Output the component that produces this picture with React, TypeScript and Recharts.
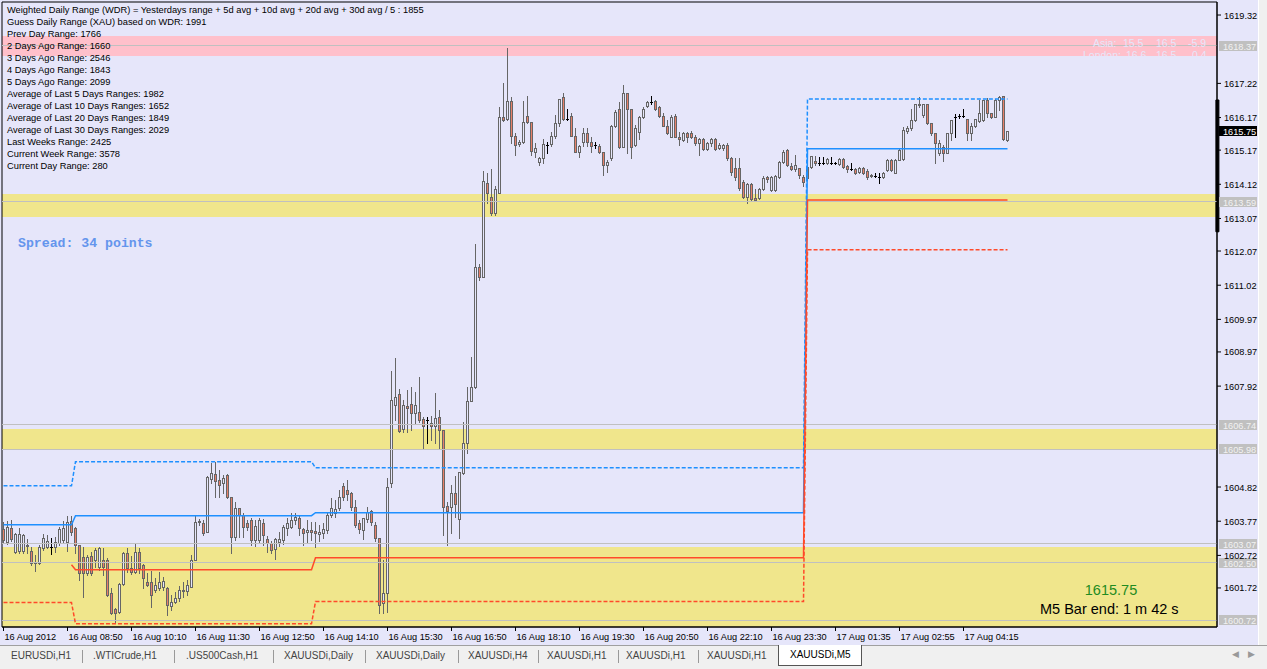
import React from "react";
import { ComposedChart, Bar, Line, XAxis, YAxis, ReferenceArea, ReferenceLine } from "recharts";

// ---------- DATA (XAUUSDi M5, [open, high, low, close]) ----------
const sessionA: number[][] = [
  [1603.54,1603.76,1603.14,1603.20],[1603.14,1603.79,1603.08,1603.60],[1603.57,1603.82,1603.17,1603.23],[1602.83,1603.42,1602.80,1603.39],
  [1602.86,1603.57,1602.80,1603.39],[1602.86,1603.39,1602.80,1603.36],[1603.02,1603.23,1602.80,1603.05],[1602.86,1602.99,1602.43,1602.50],
  [1602.53,1602.74,1602.25,1602.50],[1602.50,1603.05,1602.46,1602.99],[1602.96,1603.39,1602.89,1603.26],[1602.99,1603.36,1602.96,1603.17],
  [1602.99,1603.26,1602.77,1602.99],[1602.99,1603.29,1602.83,1603.14],[1603.11,1603.60,1603.05,1603.54],[1603.20,1603.79,1603.14,1603.57],
  [1603.14,1603.94,1602.86,1603.76],[1603.79,1603.94,1603.36,1603.45],[1603.57,1603.60,1602.80,1603.05],[1603.05,1603.05,1601.97,1602.19],
  [1602.68,1602.99,1601.45,1602.19],[1602.19,1602.74,1602.13,1602.68],[1602.71,1602.83,1602.13,1602.19],[1602.59,1602.96,1602.37,1602.89],
  [1602.37,1602.99,1602.28,1602.96],[1602.59,1602.96,1602.13,1602.37],[1602.59,1602.65,1601.48,1601.51],[1601.57,1601.73,1600.93,1600.96],
  [1601.08,1601.11,1600.68,1600.96],[1600.99,1601.88,1600.96,1601.85],[1601.85,1602.83,1601.82,1602.80],[1602.80,1602.96,1602.22,1602.34],
  [1602.34,1602.71,1602.16,1602.22],[1602.22,1603.11,1602.19,1602.83],[1602.83,1602.96,1602.19,1602.34],[1602.43,1602.46,1601.73,1602.03],
  [1601.91,1602.19,1601.79,1601.82],[1601.91,1602.25,1601.14,1601.51],[1601.67,1602.03,1601.61,1601.82],[1601.73,1602.22,1601.67,1601.91],
  [1601.76,1602.06,1601.67,1601.94],[1601.73,1601.76,1600.90,1601.21],[1601.18,1601.51,1601.05,1601.30],[1601.30,1601.61,1601.27,1601.42],
  [1601.42,1601.79,1601.33,1601.67],[1601.64,1601.91,1601.45,1601.67],[1601.64,1601.97,1601.51,1601.82],[1601.76,1602.74,1601.76,1602.59],
  [1602.59,1603.97,1602.59,1603.76],[1603.76,1603.85,1603.66,1603.79],[1603.73,1603.82,1603.36,1603.42],[1603.45,1605.17,1603.45,1605.14],
  [1605.07,1605.57,1604.95,1605.26],[1605.23,1605.60,1604.52,1605.01],[1605.04,1605.35,1604.52,1604.89],[1604.95,1605.20,1604.65,1605.11],
  [1605.20,1605.23,1604.49,1604.52],[1604.52,1604.52,1602.80,1603.29],[1603.29,1604.37,1603.20,1604.18],[1604.18,1604.18,1603.29,1603.97],
  [1603.97,1604.03,1603.29,1603.60],[1603.73,1603.82,1603.51,1603.60],[1603.82,1603.88,1603.05,1603.20],[1603.20,1603.82,1603.02,1603.63],
];
const sessionB: number[][] = [
  [1603.20,1603.88,1603.11,1603.82],[1603.73,1603.85,1603.05,1603.36],[1603.23,1603.33,1602.83,1603.11],[1603.11,1603.17,1602.80,1602.89],
  [1602.92,1603.26,1602.62,1603.23],[1603.14,1603.45,1603.02,1603.23],[1603.20,1603.66,1603.08,1603.60],[1603.57,1603.88,1603.36,1603.73],
  [1603.60,1604.03,1603.57,1603.82],[1603.82,1604.03,1603.69,1603.91],[1603.88,1603.94,1603.36,1603.57],[1603.54,1603.57,1603.05,1603.42],
  [1603.45,1603.82,1603.14,1603.51],[1603.51,1603.76,1603.20,1603.45],[1603.48,1603.76,1602.99,1603.42],[1603.39,1603.66,1603.17,1603.45],
  [1603.42,1603.73,1603.26,1603.54],[1603.51,1604.03,1603.42,1603.97],[1603.97,1604.49,1603.91,1604.18],[1604.03,1604.43,1603.91,1604.15],
  [1604.18,1604.74,1604.12,1604.52],[1604.86,1604.95,1604.43,1604.52],[1604.74,1605.04,1604.43,1604.61],[1604.65,1604.68,1604.12,1604.21],
  [1604.21,1604.43,1603.60,1603.66],[1603.73,1603.82,1603.42,1603.54],[1603.51,1603.88,1603.23,1603.88],[1603.85,1604.21,1603.76,1604.06],
  [1604.09,1604.12,1603.66,1603.76],[1603.66,1603.76,1603.17,1603.26],[1603.26,1603.26,1600.96,1601.21],[1601.27,1602.59,1600.96,1601.57],
  [1601.57,1605.11,1600.99,1604.83],[1604.95,1608.39,1604.83,1607.50],[1607.35,1608.79,1606.89,1607.59],[1607.68,1607.84,1606.52,1606.55],
  [1606.61,1607.50,1606.52,1607.35],[1607.32,1607.81,1606.52,1607.26],[1607.38,1607.90,1606.58,1607.10],[1607.10,1607.75,1606.79,1607.35],
  [1607.13,1608.21,1606.82,1606.89],[1606.92,1606.98,1606.03,1606.70],[1606.89,1606.98,1606.18,1606.89],[1606.79,1607.01,1606.27,1606.70],
  [1606.70,1607.71,1606.18,1606.95],[1606.98,1607.19,1606.00,1606.58],[1606.58,1606.58,1603.36,1604.21],[1604.24,1604.37,1603.05,1604.09],
  [1604.21,1604.89,1603.42,1604.65],[1604.65,1605.17,1603.91,1604.31],[1603.85,1605.29,1603.26,1605.29],[1605.26,1606.82,1605.23,1606.18],
  [1606.18,1607.90,1605.87,1607.47],[1607.47,1608.82,1607.47,1607.90],[1607.90,1612.29,1607.87,1611.58],[1611.58,1611.67,1611.18,1611.28],
  [1611.28,1614.53,1611.28,1614.22],[1614.16,1614.47,1613.55,1613.85],[1613.73,1614.59,1613.18,1613.24],[1613.24,1614.07,1613.18,1613.98],
  [1613.85,1616.49,1613.85,1616.19],[1616.19,1617.23,1616.07,1616.10],[1616.13,1618.31,1616.10,1616.68],[1616.68,1616.80,1615.39,1615.61],
];
const sessionC: number[][] = [
  [1615.61,1615.70,1615.02,1615.33],[1615.36,1615.48,1615.30,1615.42],[1615.42,1616.68,1615.39,1616.03],[1616.22,1616.83,1616.00,1616.03],
  [1616.03,1616.03,1615.02,1615.14],[1615.11,1615.39,1614.96,1615.24],[1614.81,1614.96,1614.72,1614.93],[1614.93,1615.51,1614.78,1615.36],
  [1615.33,1615.42,1615.08,1615.33],[1615.36,1615.73,1615.30,1615.61],[1615.61,1616.25,1615.54,1616.00],[1616.00,1616.74,1615.91,1616.74],
  [1616.80,1616.93,1616.10,1616.13],[1616.13,1616.43,1616.10,1616.13],[1616.22,1616.31,1615.61,1615.61],[1615.61,1615.85,1615.11,1615.11],
  [1615.11,1615.33,1614.96,1615.30],[1615.42,1615.85,1615.30,1615.70],[1615.70,1615.85,1615.30,1615.42],[1615.42,1615.57,1615.11,1615.30],
  [1615.33,1615.42,1615.24,1615.33],[1615.30,1615.36,1615.08,1615.11],[1615.11,1615.11,1614.41,1614.72],[1614.72,1614.87,1614.50,1614.81],
  [1614.93,1615.94,1614.87,1615.91],[1615.91,1616.40,1615.88,1616.34],[1616.43,1616.65,1615.24,1615.27],[1615.27,1617.17,1615.27,1616.93],
  [1616.93,1616.93,1615.08,1616.43],[1616.43,1616.43,1614.93,1615.27],[1615.33,1615.94,1615.30,1615.85],[1615.73,1616.22,1615.51,1616.19],
  [1616.19,1616.49,1616.16,1616.43],[1616.53,1616.68,1616.49,1616.65],[1616.65,1616.83,1616.59,1616.65],[1616.68,1616.71,1616.40,1616.43],
  [1616.49,1616.53,1616.19,1616.22],[1616.22,1616.31,1615.91,1615.91],[1615.91,1616.10,1615.67,1615.70],[1615.57,1616.25,1615.57,1616.19],
  [1616.22,1616.28,1615.57,1615.57],[1615.57,1615.73,1615.33,1615.51],[1615.48,1615.73,1615.45,1615.70],[1615.70,1615.73,1615.42,1615.57],
  [1615.70,1615.76,1615.54,1615.57],[1615.57,1615.64,1615.33,1615.39],[1615.39,1615.54,1615.02,1615.51],[1615.51,1615.54,1615.17,1615.21],
  [1615.21,1615.42,1615.17,1615.39],[1615.39,1615.54,1615.30,1615.51],[1615.51,1615.54,1615.17,1615.21],[1615.24,1615.39,1615.21,1615.33],
  [1615.24,1615.36,1615.17,1615.33],[1615.33,1615.39,1614.87,1614.93],[1614.93,1614.96,1614.41,1614.50],[1614.62,1614.93,1614.25,1614.35],
  [1614.62,1614.93,1613.95,1614.01],[1614.19,1614.25,1613.70,1613.73],[1613.73,1614.16,1613.55,1614.13],[1614.13,1614.16,1613.64,1613.67],
  [1613.70,1613.98,1613.61,1613.64],[1613.70,1614.01,1613.67,1613.98],[1613.98,1614.38,1613.95,1614.32],[1614.35,1614.38,1614.19,1614.28],
];
const sessionD: number[][] = [
  [1613.95,1614.38,1613.92,1614.35],[1613.95,1614.41,1613.92,1614.38],[1614.35,1614.84,1614.32,1614.81],[1614.81,1615.17,1614.78,1615.11],
  [1615.17,1615.21,1614.69,1614.72],[1614.69,1614.78,1614.56,1614.59],[1614.59,1615.02,1614.53,1614.72],[1614.62,1614.62,1614.32,1614.41],
  [1614.35,1614.41,1614.07,1614.19],[1614.32,1614.72,1614.25,1614.65],[1614.65,1614.99,1614.62,1614.99],[1614.84,1614.99,1614.72,1614.78],
  [1614.78,1614.96,1614.72,1614.78],[1614.78,1614.96,1614.75,1614.78],[1614.78,1614.93,1614.75,1614.90],[1614.78,1614.96,1614.75,1614.78],
  [1614.78,1614.81,1614.75,1614.78],[1614.75,1614.93,1614.72,1614.90],[1614.90,1614.93,1614.62,1614.65],[1614.69,1614.72,1614.50,1614.59],
  [1614.59,1614.78,1614.56,1614.59],[1614.59,1614.62,1614.44,1614.47],[1614.50,1614.65,1614.47,1614.62],[1614.62,1614.65,1614.44,1614.47],
  [1614.53,1614.59,1614.28,1614.35],[1614.38,1614.44,1614.35,1614.41],[1614.38,1614.47,1614.35,1614.38],[1614.35,1614.47,1614.16,1614.35],
  [1614.35,1614.50,1614.32,1614.47],[1614.56,1614.90,1614.53,1614.87],[1614.87,1614.90,1614.53,1614.56],[1614.47,1614.90,1614.47,1614.87],
  [1614.87,1615.21,1614.87,1615.17],[1614.90,1615.88,1614.87,1615.79],[1615.76,1615.91,1615.70,1615.85],[1615.85,1616.43,1615.79,1616.10],
  [1616.10,1616.59,1616.07,1616.59],[1616.56,1616.80,1616.50,1616.59],[1616.25,1616.59,1616.19,1616.59],[1616.59,1616.59,1615.97,1616.00],
  [1616.00,1616.00,1615.64,1615.70],[1615.70,1615.70,1614.78,1615.39],[1615.08,1615.48,1615.02,1615.39],[1615.27,1615.33,1614.84,1615.08],
  [1615.08,1615.70,1615.08,1615.70],[1615.70,1616.10,1615.48,1616.10],[1616.19,1616.28,1615.57,1616.19],[1616.22,1616.28,1616.16,1616.22],
  [1616.22,1616.43,1616.19,1616.22],[1616.13,1616.13,1615.48,1615.70],[1615.70,1616.00,1615.48,1615.91],[1615.91,1616.13,1615.88,1616.13],
  [1616.07,1616.71,1616.03,1616.31],[1616.10,1616.71,1616.07,1616.71],[1616.71,1616.77,1616.19,1616.31],[1616.31,1616.31,1616.16,1616.19],
  [1616.19,1616.74,1616.19,1616.71],[1616.71,1616.83,1616.40,1616.80],[1616.83,1616.83,1615.48,1615.51],[1615.48,1615.76,1615.45,1615.75],
];

const timeTickBars = [0, 16, 32, 48, 64, 80, 96, 112, 128, 144, 160, 176, 192, 208, 224, 240];
const timeTickLabels = [
  "16 Aug 2012", "16 Aug 08:50", "16 Aug 10:10", "16 Aug 11:30", "16 Aug 12:50", "16 Aug 14:10",
  "16 Aug 15:30", "16 Aug 16:50", "16 Aug 18:10", "16 Aug 19:30", "16 Aug 20:50", "16 Aug 22:10",
  "16 Aug 23:30", "17 Aug 01:35", "17 Aug 02:55", "17 Aug 04:15",
];
const priceTicks = [1619.32, 1617.22, 1616.17, 1615.17, 1614.12, 1613.07, 1612.07, 1611.02, 1609.97,
  1608.97, 1607.92, 1604.82, 1603.77, 1602.72, 1601.72];

// indicator day levels: [first bar, value]
const upperDashedSegs = [[0, 1604.86], [18, 1605.60], [78, 1605.41], [201, 1616.74]];
const upperSolidSegs = [[0, 1603.66], [18, 1603.94], [78, 1604.03], [201, 1615.21]];
const lowerSolidSegs = [[17, 1602.43], [18, 1602.28], [78, 1602.65], [201, 1613.64]];
const lowerDashedSegs = [[0, 1601.27], [18, 1600.62], [78, 1601.30], [201, 1612.11]];

const pinkZone = [1618.06, 1618.67];
const yellowZones = [[1613.12, 1613.82], [1605.96, 1606.61], [1600.52, 1602.99]];
const levelLines = [1618.37, 1613.59, 1606.74, 1605.98, 1603.07, 1602.50, 1600.72];
const currentPrice = 1615.75;
const dayRangeBar = [1612.66, 1616.71];

const infoLines = [
  "Weighted Daily Range (WDR) = Yesterdays range + 5d avg + 10d avg + 20d avg + 30d avg / 5 : 1855",
  "Guess Daily Range (XAU) based on WDR: 1991",
  "Prev Day Range: 1766",
  "2 Days Ago Range: 1660",
  "3 Days Ago Range: 2546",
  "4 Days Ago Range: 1843",
  "5 Days Ago Range: 2099",
  "Average of Last 5 Days Ranges: 1982",
  "Average of Last 10 Days Ranges: 1652",
  "Average of Last 20 Days Ranges: 1849",
  "Average of Last 30 Days Ranges: 2029",
  "Last Weeks Range: 2425",
  "Current Week Range: 3578",
  "Current Day Range: 280",
];
const sessionRows = [
  ["Asia:", "15.5", "16.5", "-5.9"],
  ["London:", "16.6", "16.5", "0.4"],
];
const tabNames = ["EURUSDi,H1", ".WTICrude,H1", ".US500Cash,H1", "XAUUSDi,Daily", "XAUUSDi,Daily",
  "XAUUSDi,H4", "XAUUSDi,H1", "XAUUSDi,H1", "XAUUSDi,H1", "XAUUSDi,M5"];

// ---------- build table ----------
const candles = [...sessionA, ...sessionB, ...sessionC, ...sessionD];
const segVal = (segs: number[][], i: number) => {
  let v: number | null = null;
  for (const s of segs) if (i >= s[0]) v = s[1];
  return v;
};
const data = candles.map((c, i) => ({
  i,
  o: c[0], h: c[1], l: c[2], c: c[3],
  range: [c[2], c[1]],
  ud: segVal(upperDashedSegs, i),
  us: segVal(upperSolidSegs, i),
  ls: segVal(lowerSolidSegs, i),
  ld: segVal(lowerDashedSegs, i),
}));

// ---------- styling / layout ----------
const BG = "#E6E6FA";
const FONT = "'Liberation Sans', Arial, sans-serif";
const BULL_FILL = "#E6E6FA";
const BEAR_FILL = "#E8806A";
const OUTLINE = "#666666";
const BLUE = "#1E90FF";
const RED = "#FF4A2A";
const X_DOMAIN: [number, number] = [-0.375, 303.375];
const Y_DOMAIN: [number, number] = [1600.52, 1619.72];
const tabX = [11, 93, 186, 284, 376, 468, 547, 626, 707, 789];
const sepX = [82, 174, 273, 365, 458, 538, 618, 698];
const sessionColX = [[1093, 1123, 1156, 1188], [1083, 1126, 1156, 1192]];
const sessionRowY = [47.3, 58.6];

const Candle = (props: any) => {
  const { x, y, width, height, payload } = props;
  if (!payload || payload.o == null) return null;
  const { o, h, l, c } = payload;
  const top = Math.min(y, y + height);
  const bot = Math.max(y, y + height);
  const span = h - l;
  const toY = (v: number) => (span > 0 ? top + ((h - v) / span) * (bot - top) : top);
  const cx = Math.floor(x + width / 2) + 0.5;
  const yh = Math.round(top);
  const yl = Math.round(bot);
  const yo = Math.round(toY(o));
  const yc = Math.round(toY(c));
  if (o === c) {
    return (
      <g>
        <line x1={cx} x2={cx} y1={yh} y2={yl + 1} stroke="#000" strokeWidth={1} />
        <line x1={cx - 1.5} x2={cx + 1.5} y1={yo + 0.5} y2={yo + 0.5} stroke="#000" strokeWidth={1} />
      </g>
    );
  }
  const bt = Math.min(yo, yc);
  const bh = Math.max(Math.abs(yo - yc), 1);
  return (
    <g>
      <line x1={cx} x2={cx} y1={yh} y2={yl + 1} stroke={OUTLINE} strokeWidth={1} />
      <rect x={cx - 1} y={bt + 0.5} width={2} height={bh} fill={c > o ? BULL_FILL : BEAR_FILL} stroke={OUTLINE} strokeWidth={1} />
    </g>
  );
};

const XTick = (props: any) => {
  const { x, y, payload } = props;
  const k = timeTickBars.indexOf(payload.value);
  return (
    <text x={x + 1} y={y + 7} fontSize={9.2} fontFamily={FONT} fill="#000" textAnchor="start">
      {k >= 0 ? timeTickLabels[k] : ""}
    </text>
  );
};

const YTick = (props: any) => {
  const { x, y, payload } = props;
  return (
    <text x={x + 2} y={y + 3.5} fontSize={9.2} fontFamily={FONT} fill="#000" textAnchor="start">
      {Number(payload.value).toFixed(2)}
    </text>
  );
};

const boxLabel = (text: string, fill: string, color: string) => (p: any) => {
  const vb = p.viewBox || {};
  const bx = vb.x + vb.width + 2;
  const by = Math.round(vb.y);
  return (
    <g>
      <rect x={bx} y={by - 5} width={38} height={10} fill={fill} />
      <text x={bx + 4} y={by + 3.5} fontSize={9.2} fontFamily={FONT} fill={color}>{text}</text>
    </g>
  );
};

export default function App() {
  return (
    <div style={{ position: "absolute", left: 0, top: 0, width: 1267, height: 669, background: "#F0F0F0", overflow: "hidden" }}>
      <div style={{ position: "absolute", left: 0, top: 0, width: 1258, height: 645, background: BG }}>
        <ComposedChart width={1258} height={645} data={data} margin={{ top: 2, right: 0, bottom: 0, left: 2 }}>
          <XAxis
            dataKey="i"
            type="number"
            domain={X_DOMAIN}
            allowDataOverflow
            ticks={timeTickBars}
            interval={0}
            height={18}
            tickSize={4}
            tickMargin={2}
            axisLine={{ stroke: "#000" }}
            tickLine={{ stroke: "#000" }}
            tick={<XTick />}
          />
          <YAxis
            orientation="right"
            type="number"
            domain={Y_DOMAIN}
            allowDataOverflow
            ticks={priceTicks}
            interval={0}
            width={41}
            tickSize={4}
            tickMargin={1}
            axisLine={{ stroke: "#000" }}
            tickLine={{ stroke: "#000" }}
            tick={<YTick />}
          />
          <ReferenceArea x1={X_DOMAIN[0]} x2={X_DOMAIN[1]} y1={pinkZone[0]} y2={pinkZone[1]} fill="#FFC0CB" fillOpacity={1} stroke="none" ifOverflow="hidden" shapeRendering="crispEdges" />
          {yellowZones.map((z, k) => (
            <ReferenceArea key={"yz" + k} x1={X_DOMAIN[0]} x2={X_DOMAIN[1]} y1={z[0]} y2={z[1]} fill="#F0E68C" fillOpacity={1} stroke="none" ifOverflow="hidden" shapeRendering="crispEdges" />
          ))}
          {levelLines.map((v) => (
            <ReferenceLine key={"lv" + v} y={v} stroke="#C0C0C0" strokeWidth={1} shapeRendering="crispEdges" label={boxLabel(v.toFixed(2), "#C0C0C0", "#F2F2F2")} />
          ))}
          <ReferenceLine y={currentPrice} stroke="none" label={boxLabel(currentPrice.toFixed(2), "#000", "#FFF")} />
          <Bar dataKey="range" barSize={3} shape={<Candle />} isAnimationActive={false} />
          <Line dataKey="ud" type="linear" stroke={BLUE} strokeWidth={1.5} strokeDasharray="4 2" dot={false} activeDot={false} isAnimationActive={false} />
          <Line dataKey="us" type="linear" stroke={BLUE} strokeWidth={1.5} dot={false} activeDot={false} isAnimationActive={false} />
          <Line dataKey="ls" type="linear" stroke={RED} strokeWidth={1.5} dot={false} activeDot={false} isAnimationActive={false} />
          <Line dataKey="ld" type="linear" stroke={RED} strokeWidth={1.5} strokeDasharray="4 2" dot={false} activeDot={false} isAnimationActive={false} />
          <ReferenceArea x1={X_DOMAIN[0]} x2={X_DOMAIN[1]} y1={Y_DOMAIN[0]} y2={Y_DOMAIN[1]} fill="none" stroke="#000" strokeWidth={1} ifOverflow="visible" />
          <ReferenceArea x1={303.1} x2={303.85} y1={dayRangeBar[0]} y2={dayRangeBar[1]} fill="#000" fillOpacity={1} stroke="#000" ifOverflow="visible" />
        </ComposedChart>
        <svg width={1258} height={645} style={{ position: "absolute", left: 0, top: 0, pointerEvents: "none" }}>
          {infoLines.map((t, k) => (
            <text key={k} x={7} y={13 + 12 * k} fontSize={9.3} fontFamily={FONT} fill="#000">{t}</text>
          ))}
          <text x={18} y={247} fontSize={13.2} fontWeight="bold" fontFamily="'Liberation Mono', 'DejaVu Sans Mono', monospace" fill="#6495ED">
            Spread: 34 points
          </text>
          {sessionRows.map((r, k) => (
            <g key={"s" + k} fontSize={10.5} fontFamily={FONT} fill={BG}>
              {r.map((t, j) => (
                <text key={j} x={sessionColX[k][j]} y={sessionRowY[k]}>{t}</text>
              ))}
            </g>
          ))}
          <text x={1111} y={595} fontSize={14.5} fontFamily={FONT} fill="#228B22" textAnchor="middle">1615.75</text>
          <text x={1040} y={614} fontSize={14.5} fontFamily={FONT} fill="#000">M5 Bar end: 1 m 42 s</text>
        </svg>
      </div>
      <div style={{ position: "absolute", left: 1258, top: 0, width: 9, height: 645, background: "#F0F0F0", borderLeft: "1px solid #FFFFFF" }} />
      <div style={{ position: "absolute", left: 0, top: 645, width: 1267, height: 1, background: "#A0A0A0" }} />
      <div style={{ position: "absolute", left: 0, top: 646, width: 1267, height: 23, background: "#F0F0F0", fontFamily: FONT, fontSize: 10, color: "#444" }}>
        {tabNames.map((t, k) =>
          k === tabNames.length - 1 ? (
            <div key={k} style={{ position: "absolute", left: 778, top: -1, width: 84, height: 21, background: "#FFF", border: "1px solid #555", borderTop: "none", boxSizing: "border-box" }}>
              <span style={{ position: "absolute", left: 11, top: 4, color: "#000" }}>{t}</span>
            </div>
          ) : (
            <span key={k} style={{ position: "absolute", left: tabX[k], top: 4 }}>{t}</span>
          )
        )}
        {sepX.map((x, k) => (
          <div key={"sep" + k} style={{ position: "absolute", left: x, top: 4, width: 1, height: 13, background: "#999" }} />
        ))}
        <span style={{ position: "absolute", left: 1232, top: 3, color: "#999", fontSize: 9 }}>◀</span>
        <span style={{ position: "absolute", left: 1248, top: 3, color: "#999", fontSize: 9 }}>▶</span>
      </div>
    </div>
  );
}
